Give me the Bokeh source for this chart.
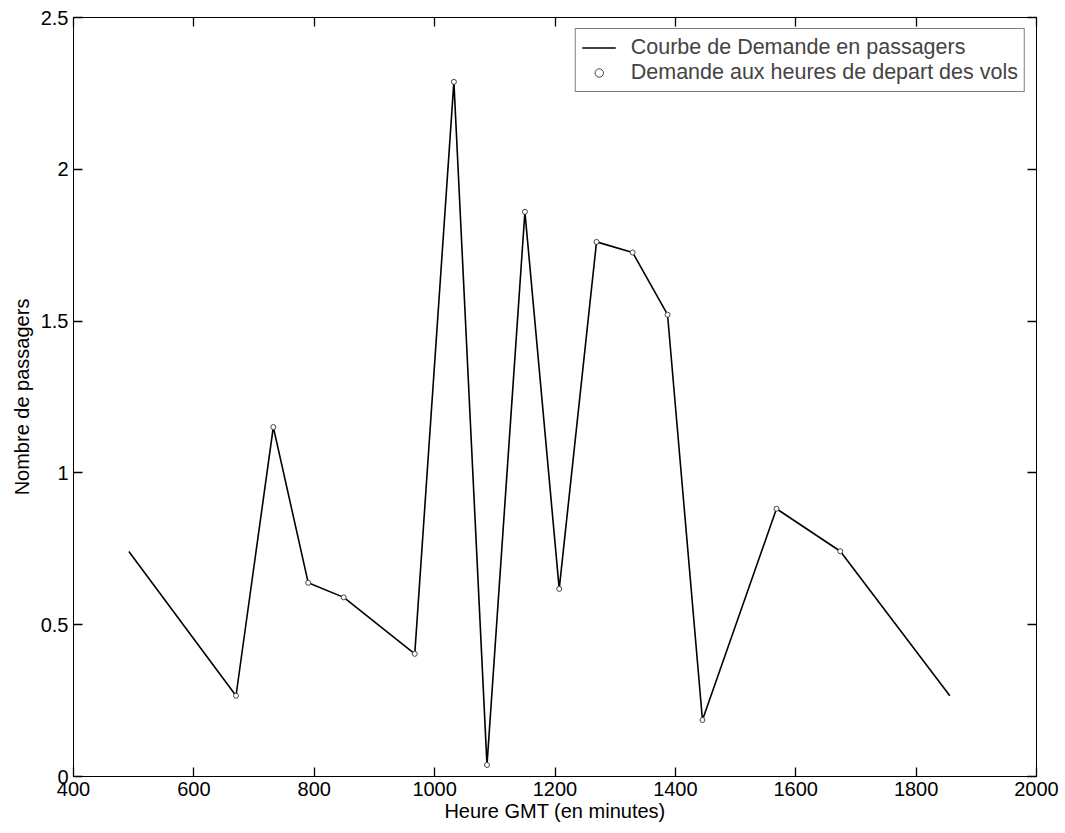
from bokeh.plotting import figure
from bokeh.models import Range1d, FixedTicker, LinearAxis, Legend, LegendItem
from bokeh.embed import file_html
from bokeh.resources import INLINE

# Demand curve (passengers) over GMT time in minutes
curve_start_time = [492]
curve_start_demand = [0.741]
flight_times = [670, 732, 790, 849, 967, 1032, 1087, 1150, 1207, 1269, 1329, 1387, 1445, 1568, 1674]
flight_demand = [0.266, 1.151, 0.638, 0.590, 0.404, 2.288, 0.038, 1.860, 0.618, 1.761, 1.726, 1.521, 0.186, 0.882, 0.742]
curve_end_time = [1856]
curve_end_demand = [0.266]

x_ticks = [400, 600, 800, 1000, 1200, 1400, 1600, 1800, 2000]
y_ticks = [0, 0.5, 1, 1.5, 2, 2.5]
y_tick_labels = ["0", "0.5", "1", "1.5", "2", "2.5"]

curve_t = curve_start_time + flight_times + curve_end_time
curve_d = curve_start_demand + flight_demand + curve_end_demand

FONT = "Liberation Sans"
TICK_SIZE = "20px"
LABEL_SIZE = "20px"

p = figure(width=1065, height=833, output_backend="svg", toolbar_location=None,
           x_range=Range1d(400, 2000), y_range=Range1d(0, 2.5),
           min_border_left=73, min_border_right=29, min_border_top=17, min_border_bottom=57)
p.xgrid.visible = False
p.ygrid.visible = False
p.outline_line_color = "black"
p.outline_line_width = 1
p.background_fill_color = "white"
p.border_fill_color = "white"


def style_axis(ax, show_labels=True):
    ax.axis_line_color = "black"
    ax.axis_line_width = 1
    ax.major_tick_in = 9
    ax.major_tick_out = 0
    ax.minor_tick_line_color = None
    ax.major_tick_line_color = "black"
    ax.major_tick_line_width = 1.3
    ax.major_label_text_font = FONT
    ax.major_label_text_font_size = TICK_SIZE
    ax.major_label_text_color = "black"
    ax.axis_label_text_font = FONT
    ax.axis_label_text_font_size = LABEL_SIZE
    ax.axis_label_text_font_style = "normal"
    ax.axis_label_text_color = "black"
    if not show_labels:
        ax.major_label_text_font_size = "0px"
        ax.major_label_text_alpha = 0


xa = p.xaxis[0]
xa.ticker = FixedTicker(ticks=x_ticks)
xa.axis_label = "Heure GMT (en minutes)"
xa.major_label_standoff = 5
xa.axis_label_standoff = 1
style_axis(xa)

ya = p.yaxis[0]
ya.ticker = FixedTicker(ticks=y_ticks)
ya.major_label_overrides = {t: s for t, s in zip(y_ticks, y_tick_labels)}
ya.axis_label = "Nombre de passagers"
ya.major_label_standoff = 5
ya.axis_label_standoff = 5
style_axis(ya)

top = LinearAxis(ticker=FixedTicker(ticks=x_ticks))
style_axis(top, show_labels=False)
p.add_layout(top, "above")

right = LinearAxis(ticker=FixedTicker(ticks=y_ticks))
style_axis(right, show_labels=False)
p.add_layout(right, "right")

line_r = p.line(curve_t, curve_d, line_color="black", line_width=1.6)
pts_r = p.scatter(flight_times, flight_demand, marker="circle", size=5,
                  line_color="#444444", line_width=1, fill_color="white")

legend = Legend(items=[
    LegendItem(label="Courbe de Demande en passagers", renderers=[line_r]),
    LegendItem(label="Demande aux heures de depart des vols", renderers=[pts_r]),
], location="top_right")
legend.margin = 11
legend.padding = 6
legend.spacing = 0
legend.glyph_width = 34
legend.glyph_height = 21
legend.label_standoff = 15
legend.label_text_font = FONT
legend.label_text_font_size = "21.5px"
legend.label_height = 21
legend.border_line_color = "black"
legend.border_line_width = 1
legend.background_fill_alpha = 1
p.add_layout(legend, "center")

open("out.html", "w").write(file_html(p, INLINE))
